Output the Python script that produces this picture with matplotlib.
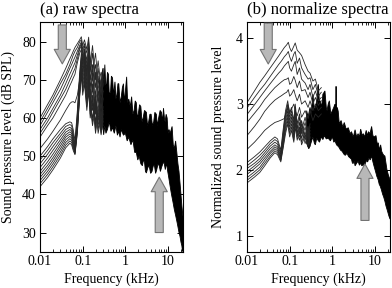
import numpy as np
import matplotlib
matplotlib.use("Agg")
import matplotlib.pyplot as plt
from matplotlib.patches import FancyArrowPatch

plt.rcParams['font.family'] = ['Liberation Serif', 'DejaVu Serif']
plt.rcParams['font.size'] = 10

# ---------------- (a) raw spectra, dB SPL ----------------
fa = [0.01, 0.015, 0.02, 0.03, 0.04, 0.05, 0.055, 0.06, 0.066, 0.075, 0.085,
      0.093, 0.1, 0.11, 0.125, 0.138, 0.15, 0.17, 0.2, 0.23, 0.27, 0.3]

a_top1 = [60, 63.5, 66, 70, 73, 75.5, 76.5, 77.5, 78.5, 79.5, 80.5, 81.3, 79, 80.5, 78, 81.2, 74, 79, 70, 75, 68, 73]
a_top2 = [59, 62.5, 65, 69, 71.5, 74, 75.3, 76.5, 77.5, 78.5, 80, 80.5, 78, 79.5, 77, 80, 76, 72, 77, 69, 72, 70]
a_top3 = [58, 61.5, 64, 67.5, 70.5, 73, 74, 75, 76, 77.5, 79, 80, 77, 79, 75, 79, 72, 77, 68, 73, 66, 71]
a_top4 = [57, 60, 62.5, 66, 69, 71.5, 72.5, 73.5, 74.5, 76.5, 78.5, 79.5, 76, 78, 74, 78, 74, 70, 74, 66, 70, 67]
a_top5 = [56, 59, 61.5, 65, 67.5, 70, 71, 72, 73, 75.5, 78, 79, 75, 77, 73, 77, 70, 74, 66, 71, 64, 69]
a_top6 = [55, 58, 60, 63.5, 66, 68.5, 69.5, 70.5, 71.5, 74.5, 77, 78, 74, 76, 72, 76, 71, 67, 72, 64, 68, 65]
a_mid = [52, 54.5, 56.5, 59.5, 62, 63.8, 64.2, 64.3, 64, 66, 70, 74, 72, 75, 71, 76, 68, 72, 64, 69, 62, 67]

a_low0 = [50, 52.5, 54.5, 57, 58.5, 59, 58.8, 57, 54, 62, 72, 77, 75, 78, 72, 76, 66, 71, 62, 67, 60, 65]
a_low1 = [49, 51.5, 53.5, 56, 57.8, 58.3, 58, 56, 53, 61, 71, 76, 74, 77, 70, 75, 64, 69, 61, 66, 58, 63]
a_low2 = [48, 50.5, 52.5, 55.2, 57, 57.6, 57.2, 55.3, 52.5, 60, 70, 75.5, 73, 76, 69, 74, 67, 62, 66, 59, 64, 61]
a_low3 = [47, 49.5, 51.5, 54.3, 56.3, 57, 56.6, 54.6, 52, 59, 69, 75, 72, 75, 68, 73, 63, 68, 59, 64, 57, 62]
a_low4 = [46, 48.5, 50.5, 53.5, 55.6, 56.4, 56, 54, 51.6, 58.5, 68, 74, 71, 74, 67, 72, 65, 60, 65, 58, 62, 59]
a_low5 = [45.2, 47.6, 49.6, 52.7, 55, 55.8, 55.4, 53.5, 51.3, 58, 67.5, 73.5, 70, 73, 66, 71, 62, 66, 58, 63, 56, 61]
a_low6 = [44.4, 46.8, 48.8, 51.9, 54.3, 55.2, 54.8, 53, 51, 57.5, 67, 73, 69, 72, 65, 70, 64, 59, 64, 57, 61, 58]
a_low7 = [43.6, 46, 48, 51.1, 53.6, 54.6, 54.2, 52.5, 50.8, 57, 66.5, 72.5, 68, 71, 64, 69, 61, 65, 57, 62, 55.6, 60]
a_low8 = [42.8, 45.2, 47.2, 50.3, 52.9, 54, 53.6, 52, 50.6, 56.5, 66, 72, 67, 70, 63, 68, 63, 58, 63, 56, 60, 57]
a_low9 = [42, 44.4, 46.4, 49.5, 52.2, 53.4, 53, 51.5, 50.4, 56, 65.5, 71.5, 66, 69, 62, 67, 60, 64, 56, 61, 57, 59]

# dense band above ~0.25 kHz (upper / lower envelope)
a_up_f = [0.25, 0.26, 0.27, 0.285, 0.3, 0.315, 0.33, 0.345, 0.36, 0.38, 0.4, 0.42, 0.45, 0.47,
          0.5, 0.53, 0.57, 0.6, 0.63, 0.67, 0.7, 0.75, 0.8, 0.85, 0.9, 0.95, 1.0, 1.07, 1.13,
          1.2, 1.3, 1.4, 1.5, 1.6, 1.7, 1.8, 1.9, 2.0, 2.15, 2.3, 2.45, 2.6, 2.8, 3.1, 3.3, 3.5,
          3.75, 4.0, 4.3, 4.6, 4.9, 5.3, 5.6, 6.0, 6.5, 7.0, 7.4, 7.8, 8.2, 8.5, 9.0, 9.5, 10.0,
          10.5, 11.2, 12.4, 13.2, 14, 15, 16, 17, 18, 19, 20, 21, 22.4]
a_up = [70, 66, 68, 72, 73, 68, 74, 69, 68, 72, 71.5, 66, 67, 71, 70.5, 66, 69.5, 65, 66, 69,
        69, 64, 65.5, 68, 69, 64, 67, 70.8, 64, 65, 63, 65.6, 61, 62, 64.5, 64, 60, 61, 63.5,
        63, 59, 60, 62, 61.5, 58, 59, 61, 61, 58, 59, 61.5, 61, 58, 60, 62, 61.5, 59, 62.6, 60,
        59, 61, 60, 56, 57, 56, 57.8, 53, 52, 54, 51, 48, 46, 43, 40, 37, 34]
a_lo_f = [0.25, 0.27, 0.29, 0.31, 0.33, 0.35, 0.38, 0.42, 0.46, 0.5, 0.55, 0.6, 0.65, 0.7,
          0.75, 0.8, 0.9, 1.0, 1.1, 1.2, 1.35, 1.5, 1.65, 1.8, 1.95, 2.1, 2.3, 2.5, 2.65, 2.8,
          2.95, 3.1, 3.35, 3.6, 3.9, 4.2, 4.5, 4.8, 5.1, 5.4, 5.8, 6.2, 6.6, 7.0, 7.5, 8.0, 8.6,
          9.2, 9.8, 10.5, 11.2, 12, 13, 14, 15, 16, 17, 18, 19, 20, 21, 21.5, 22.4]
a_lo = [62, 57, 59, 55.6, 58, 56, 57, 59, 56.5, 57.5, 56, 58, 55.5, 56.5, 55, 57, 55.5, 56,
        54, 55, 53, 54.3, 51, 51, 49, 50, 48, 47.5, 49, 48.5, 46, 45.6, 47, 47.5, 45.5, 46,
        47.5, 47.5, 45.5, 46.4, 48, 47.5, 46, 47, 48, 48.5, 46.5, 48.2, 46, 44, 42, 40, 38, 36,
        34.5, 33, 31.5, 30, 29, 27.5, 26.5, 25.5, 25]

# ---------------- (b) normalized spectra ----------------
fb = [0.01, 0.015, 0.02, 0.026, 0.035, 0.045, 0.055, 0.065, 0.075, 0.085, 0.093, 0.1, 0.11,
      0.125, 0.135, 0.15, 0.17, 0.19, 0.23, 0.27, 0.3, 0.35, 0.4, 0.47, 0.55]
b_top1 = [3.02, 3.2, 3.33, 3.43, 3.55, 3.65, 3.73, 3.8, 3.86, 3.9, 3.94, 3.86, 3.8, 3.88, 3.93, 3.82, 3.78, 3.74, 3.6, 3.5, 3.47, 3.35, 3.38, 3.2, 3.25]
b_top2 = [2.94, 3.1, 3.21, 3.30, 3.42, 3.52, 3.6, 3.66, 3.72, 3.76, 3.8, 3.72, 3.65, 3.76, 3.8, 3.62, 3.7, 3.55, 3.45, 3.38, 3.4, 3.22, 3.3, 3.12, 3.18]
b_top3 = [2.84, 2.99, 3.1, 3.20, 3.31, 3.40, 3.47, 3.52, 3.58, 3.62, 3.65, 3.55, 3.5, 3.6, 3.65, 3.45, 3.55, 3.38, 3.32, 3.22, 3.3, 3.1, 3.2, 3.05, 3.1]
b_top4 = [2.72, 2.86, 2.96, 3.07, 3.17, 3.25, 3.3, 3.34, 3.37, 3.38, 3.4, 3.3, 3.32, 3.42, 3.36, 3.25, 3.35, 3.2, 3.22, 3.1, 3.18, 3.0, 3.1, 2.98, 3.05]
b_top5 = [2.52, 2.66, 2.77, 2.89, 2.99, 3.06, 3.1, 3.13, 3.16, 3.18, 3.22, 3.12, 3.15, 3.22, 3.14, 3.05, 3.15, 3.0, 3.05, 2.95, 3.05, 2.9, 3.0, 2.9, 2.95]
b_top6 = [2.31, 2.42, 2.51, 2.6, 2.67, 2.72, 2.74, 2.76, 2.78, 2.9, 2.97, 2.88, 2.92, 3.0, 2.9, 2.82, 2.95, 2.8, 2.9, 2.78, 2.9, 2.75, 2.85, 2.8, 2.85]

fbl = [0.01, 0.015, 0.02, 0.026, 0.035, 0.045, 0.052, 0.062, 0.07, 0.08, 0.09, 0.1, 0.11,
       0.125, 0.135, 0.15, 0.17, 0.19, 0.23, 0.27, 0.3]
b_low0 = [2.11, 2.2, 2.27, 2.35, 2.44, 2.5, 2.47, 2.3, 2.6, 2.9, 3.05, 2.85, 2.95, 2.75, 3.0, 2.7, 2.85, 2.6, 2.8, 2.55, 2.7]
b_low1 = [2.06, 2.15, 2.22, 2.3, 2.4, 2.46, 2.43, 2.26, 2.55, 2.85, 3.0, 2.8, 2.9, 2.7, 2.95, 2.62, 2.8, 2.55, 2.72, 2.5, 2.65]
b_low2 = [2.02, 2.1, 2.17, 2.26, 2.36, 2.42, 2.39, 2.23, 2.5, 2.8, 2.95, 2.75, 2.85, 2.65, 2.9, 2.68, 2.55, 2.75, 2.5, 2.66, 2.48]
b_low3 = [1.97, 2.06, 2.13, 2.22, 2.32, 2.38, 2.35, 2.2, 2.46, 2.75, 2.9, 2.7, 2.8, 2.6, 2.85, 2.55, 2.72, 2.48, 2.65, 2.44, 2.6]
b_low4 = [1.93, 2.02, 2.09, 2.18, 2.28, 2.35, 2.32, 2.18, 2.42, 2.7, 2.85, 2.65, 2.75, 2.55, 2.8, 2.6, 2.5, 2.7, 2.45, 2.6, 2.42]
b_low5 = [1.88, 1.97, 2.04, 2.14, 2.25, 2.32, 2.29, 2.16, 2.38, 2.65, 2.8, 2.6, 2.7, 2.5, 2.75, 2.5, 2.65, 2.42, 2.58, 2.38, 2.55]
b_low6 = [1.84, 1.93, 2.0, 2.1, 2.21, 2.29, 2.26, 2.14, 2.35, 2.6, 2.75, 2.55, 2.65, 2.45, 2.7, 2.55, 2.45, 2.62, 2.4, 2.55, 2.36]
b_low7 = [1.80, 1.89, 1.96, 2.06, 2.18, 2.26, 2.23, 2.12, 2.32, 2.55, 2.7, 2.5, 2.6, 2.42, 2.65, 2.45, 2.6, 2.38, 2.52, 2.35, 2.5]

b_up_f = [0.25, 0.27, 0.3, 0.32, 0.35, 0.38, 0.4, 0.43, 0.47, 0.5, 0.52, 0.56, 0.6, 0.67, 0.72,
          0.75, 0.8, 0.85, 0.92, 1.0, 1.08, 1.15, 1.2, 1.22, 1.24, 1.3, 1.37, 1.45, 1.6, 1.75,
          1.9, 2.1, 2.36, 2.6, 2.8, 3.1, 3.4, 3.7, 4.0, 4.3, 4.6, 5.0, 5.3, 5.7, 6.2, 6.6, 7.0,
          7.6, 8.3, 8.9, 9.5, 10.5, 11.2, 11.9, 12.7, 13.5, 14.3, 15, 16, 17, 18, 19, 20.5, 22.4]
b_up = [2.9, 2.8, 2.95, 2.85, 3.15, 2.9, 2.95, 3.05, 3.3, 3.0, 3.05, 2.95, 3.15, 3.2, 2.95,
        2.9, 3.0, 3.05, 2.85, 2.9, 2.95, 3.0, 2.85, 3.27, 2.85, 2.95, 2.89, 2.7, 2.75, 2.65,
        2.72, 2.62, 2.64, 2.55, 2.58, 2.5, 2.61, 2.5, 2.55, 2.5, 2.62, 2.52, 2.55, 2.5, 2.6,
        2.52, 2.58, 2.55, 2.66, 2.52, 2.5, 2.52, 2.4, 2.41, 2.3, 2.38, 2.28, 2.25, 2.22, 2.21,
        2.1, 2.0, 1.92, 1.85]
b_lo_f = [0.25, 0.28, 0.3, 0.33, 0.35, 0.38, 0.4, 0.43, 0.46, 0.5, 0.55, 0.6, 0.65, 0.72, 0.8,
          0.9, 1.0, 1.08, 1.15, 1.25, 1.4, 1.55, 1.7, 1.85, 2.0, 2.2, 2.4, 2.6, 2.8, 2.95, 3.1,
          3.25, 3.4, 3.7, 4.0, 4.3, 4.6, 4.9, 5.3, 5.7, 6.2, 6.7, 7.2, 7.7, 8.3, 8.9, 9.5, 10.2,
          11, 11.8, 12.5, 13.2, 14, 15, 16, 17, 18, 19, 20, 21, 22.4]
b_lo = [2.4, 2.32, 2.36, 2.45, 2.5, 2.4, 2.38, 2.48, 2.45, 2.42, 2.5, 2.46, 2.52, 2.47, 2.48,
        2.44, 2.5, 2.42, 2.44, 2.38, 2.35, 2.3, 2.28, 2.24, 2.22, 2.25, 2.2, 2.18, 2.16, 2.1,
        2.1, 2.13, 2.06, 2.1, 2.13, 2.07, 2.1, 2.06, 2.08, 2.05, 2.14, 2.12, 2.18, 2.15, 2.21,
        2.12, 2.05, 1.98, 1.9, 1.85, 1.78, 1.75, 1.7, 1.63, 1.58, 1.52, 1.45, 1.4, 1.35, 1.3,
        1.25]

# arrows: (x, y_tail, y_head)
a_arrow_down = (0.0333, 84.4, 74.2)
a_arrow_up = (6.2, 30.0, 44.5)
b_arrow_down = (0.0315, 4.23, 3.61)
b_arrow_up = (5.8, 1.23, 2.09)


def draw_panel(ax, top_f, top_curves, low_f, low_curves, up_f, up, lo_f, lo, arrows):
    assert len(up_f) == len(up) and len(lo_f) == len(lo)
    for c in top_curves:
        ax.plot(top_f, c, color='0.15', lw=0.6)
    for c in low_curves:
        ax.plot(low_f, c, color='0.15', lw=0.6)
    xs = np.r_[up_f, lo_f[::-1]]
    ys = np.r_[up, lo[::-1]]
    ax.fill(xs, ys, color='black', lw=0.6)
    for x, y0, y1 in arrows:
        arr = FancyArrowPatch((x, y0), (x, y1),
                              arrowstyle='simple,head_length=1.8,head_width=2.0,tail_width=1.0',
                              mutation_scale=5.8, shrinkA=0, shrinkB=0,
                              facecolor='0.72', edgecolor='0.45', lw=0.8, zorder=5)
        ax.add_patch(arr)
    ax.set_xscale('log')
    ax.set_xlim(0.01, 22.4)
    ax.set_xticks([0.01, 0.1, 1, 10], ['0.01', '0.1', '1', '10'])
    ax.tick_params(which='both', direction='in', top=True, right=True, labelsize=10)
    ax.tick_params(which='major', length=4, width=0.7)
    ax.tick_params(which='minor', length=2, width=0.6)
    ax.tick_params(axis='x', pad=2.5)
    ax.tick_params(axis='y', pad=3)
    for s in ax.spines.values():
        s.set_linewidth(0.8)
    ax.set_xlabel('Frequency (kHz)', labelpad=3)


fig = plt.figure(figsize=(3.92, 2.88), dpi=100)
ax1 = fig.add_axes([0.102, 0.125, 0.365, 0.799])
ax2 = fig.add_axes([0.630, 0.125, 0.365, 0.799])

draw_panel(ax1, fa, [a_top1, a_top2, a_top3, a_top4, a_top5, a_top6, a_mid], fa,
           [a_low0, a_low1, a_low2, a_low3, a_low4, a_low5, a_low6, a_low7, a_low8, a_low9],
           a_up_f, a_up, a_lo_f, a_lo, [a_arrow_down, a_arrow_up])
ax1.set_ylim(24.9, 85.2)
ax1.set_yticks([30, 40, 50, 60, 70, 80])
ax1.set_ylabel('Sound pressure level (dB SPL)', labelpad=5)
ax1.set_title('(a) raw spectra', loc='left', fontsize=12, pad=6)

draw_panel(ax2, fb, [b_top1, b_top2, b_top3, b_top4, b_top5, b_top6], fbl,
           [b_low0, b_low1, b_low2, b_low3, b_low4, b_low5, b_low6, b_low7],
           b_up_f, b_up, b_lo_f, b_lo, [b_arrow_down, b_arrow_up])
ax2.set_ylim(0.75, 4.25)
ax2.set_yticks([1, 2, 3, 4])
ax2.set_ylabel('Normalized sound pressure level', labelpad=8)
ax2.set_title('(b) normalize spectra', loc='left', fontsize=12, pad=6)

fig.savefig('out.png', dpi=100)
